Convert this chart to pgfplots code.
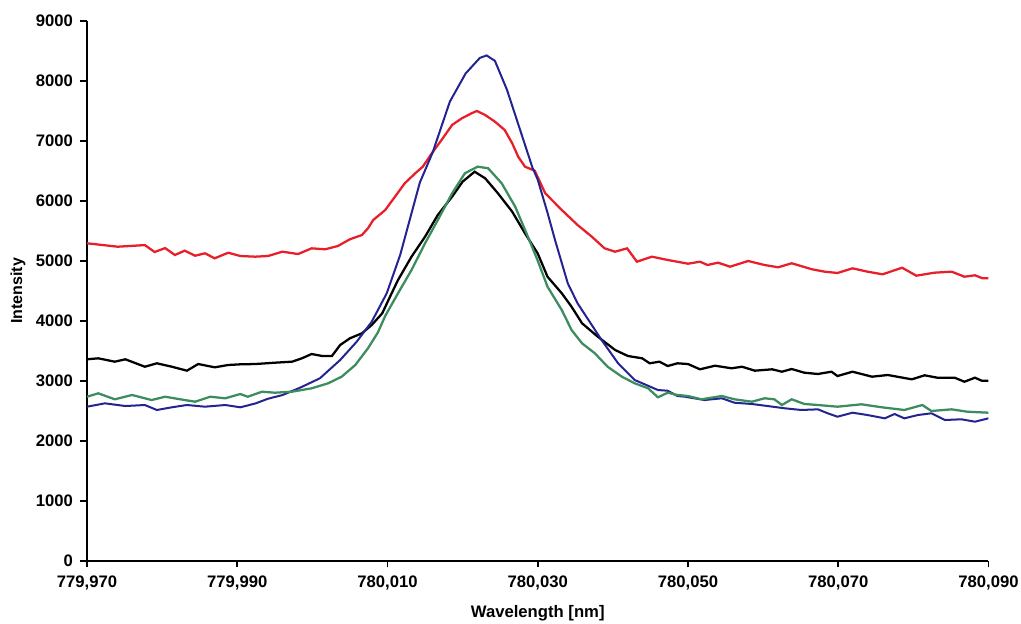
\documentclass[border=0pt]{standalone}
\usepackage{fontspec}
\setmainfont{Liberation Sans}
\usepackage{pgfplots}
\usepackage{pgfplotstable}
\pgfplotsset{compat=1.18}

\definecolor{specred}{RGB}{232,30,40}
\definecolor{specblue}{RGB}{35,35,145}
\definecolor{specgreen}{RGB}{60,140,95}

% wavelength [nm]  intensity
\pgfplotstableread{
wl int
779.9700 5290
779.9741 5233
779.9777 5260
779.9790 5145
779.9804 5210
779.9817 5095
779.9830 5167
779.9844 5083
779.9857 5123
779.9870 5040
779.9888 5133
779.9904 5078
779.9924 5067
779.9941 5078
779.9960 5150
779.9981 5111
779.9999 5206
780.0017 5190
780.0034 5245
780.0050 5357
780.0066 5428
780.0074 5540
780.0081 5678
780.0097 5845
780.0110 6067
780.0123 6290
780.0137 6457
780.0147 6567
780.0159 6790
780.0172 7012
780.0186 7262
780.0199 7373
780.0212 7457
780.0219 7495
780.0230 7428
780.0243 7317
780.0256 7178
780.0266 6957
780.0274 6733
780.0283 6567
780.0296 6500
780.0310 6123
780.0332 5845
780.0353 5595
780.0372 5400
780.0389 5206
780.0403 5150
780.0419 5206
780.0432 4983
780.0452 5067
780.0473 5012
780.0500 4950
780.0516 4983
780.0526 4928
780.0540 4967
780.0556 4900
780.0580 4995
780.0602 4928
780.0620 4890
780.0638 4957
780.0665 4857
780.0682 4817
780.0699 4795
780.0719 4873
780.0739 4817
780.0759 4773
780.0785 4883
780.0804 4750
780.0828 4800
780.0851 4817
780.0868 4733
780.0882 4757
780.0892 4707
780.0900 4707
}\redspec

\pgfplotstableread{
wl int
779.9700 3357
779.9715 3373
779.9737 3317
779.9751 3357
779.9777 3233
779.9793 3290
779.9813 3233
779.9833 3167
779.9848 3278
779.9870 3223
779.9888 3262
779.9904 3273
779.9924 3278
779.9950 3300
779.9973 3317
779.9986 3373
779.9999 3445
780.0013 3412
780.0026 3412
780.0037 3595
780.0050 3707
780.0066 3790
780.0079 3928
780.0093 4123
780.0103 4390
780.0114 4678
780.0132 5067
780.0150 5400
780.0167 5762
780.0186 6067
780.0200 6317
780.0216 6483
780.0230 6373
780.0247 6123
780.0266 5817
780.0283 5457
780.0300 5120
780.0313 4733
780.0332 4457
780.0345 4233
780.0359 3957
780.0380 3733
780.0403 3512
780.0420 3412
780.0439 3373
780.0449 3290
780.0462 3317
780.0473 3245
780.0486 3290
780.0500 3278
780.0516 3190
780.0536 3250
780.0558 3207
780.0572 3233
780.0589 3167
780.0612 3190
780.0625 3150
780.0638 3195
780.0655 3133
780.0673 3112
780.0691 3150
780.0699 3078
780.0719 3150
780.0745 3067
780.0766 3095
780.0798 3023
780.0815 3090
780.0832 3050
780.0855 3050
780.0868 2983
780.0882 3050
780.0891 3000
780.0900 3000
}\blackspec

\pgfplotstableread{
wl int
779.9700 2733
779.9715 2790
779.9737 2690
779.9760 2762
779.9786 2678
779.9804 2733
779.9830 2678
779.9844 2650
779.9864 2733
779.9884 2707
779.9904 2778
779.9914 2733
779.9933 2817
779.9950 2800
779.9973 2817
779.9999 2873
780.0021 2957
780.0039 3067
780.0057 3260
780.0074 3540
780.0087 3800
780.0097 4080
780.0114 4457
780.0132 4845
780.0150 5290
780.0167 5678
780.0186 6123
780.0203 6457
780.0220 6567
780.0234 6540
780.0252 6290
780.0270 5900
780.0285 5457
780.0300 5000
780.0313 4567
780.0332 4178
780.0345 3845
780.0359 3623
780.0376 3457
780.0393 3233
780.0412 3067
780.0429 2957
780.0447 2873
780.0460 2723
780.0473 2800
780.0486 2762
780.0500 2745
780.0518 2690
780.0545 2745
780.0562 2690
780.0585 2650
780.0602 2707
780.0615 2690
780.0625 2595
780.0638 2690
780.0655 2612
780.0673 2595
780.0699 2567
780.0731 2607
780.0758 2557
780.0788 2512
780.0812 2595
780.0824 2495
780.0851 2523
780.0872 2483
780.0900 2467
}\greenspec

\pgfplotstableread{
wl int
779.9700 2567
779.9724 2623
779.9751 2578
779.9777 2595
779.9793 2512
779.9813 2557
779.9833 2595
779.9857 2567
779.9884 2595
779.9904 2557
779.9924 2620
779.9941 2700
779.9960 2760
779.9983 2880
780.0010 3040
780.0037 3345
780.0059 3650
780.0079 3983
780.0099 4457
780.0117 5100
780.0143 6300
780.0160 6800
780.0183 7650
780.0204 8120
780.0223 8380
780.0232 8420
780.0243 8330
780.0259 7850
780.0276 7200
780.0293 6550
780.0300 6350
780.0313 5800
780.0323 5345
780.0340 4623
780.0353 4290
780.0385 3678
780.0407 3290
780.0429 3012
780.0460 2845
780.0473 2833
780.0486 2745
780.0496 2733
780.0522 2678
780.0545 2707
780.0562 2633
780.0585 2612
780.0606 2578
780.0629 2540
780.0651 2512
780.0673 2523
780.0686 2457
780.0699 2400
780.0719 2467
780.0739 2428
780.0762 2373
780.0775 2445
780.0788 2373
780.0806 2428
780.0824 2457
780.0842 2345
780.0864 2357
780.0882 2317
780.0900 2373
}\bluespec

\begin{document}
\begin{tikzpicture}
  \begin{axis}[
      name=ax, at={(0,0)}, anchor=south west,
      scale only axis, width=676pt, height=405pt,
      % shift wavelengths to pm above 779.970 nm with full precision
      x coord trafo/.code={\edef\pgfmathresult{\fpeval{(#1-779.97)*1000}}},
      xmin=779.97, xmax=780.09, ymin=0, ymax=9000,
      enlargelimits=false,
      axis lines=left,
      axis line style={-, line width=1.3pt, black},
      xtick={779.97,779.99,780.01,780.03,780.05,780.07,780.09},
      xticklabels={{779,970},{779,990},{780,010},{780,030},{780,050},{780,070},{780,090}},
      ytick={0,1000,...,9000},
      scaled y ticks=false,
      yticklabel style={/pgf/number format/1000 sep={},
                        /pgf/number format/assume math mode=true, xshift=-2pt},
      xticklabel style={yshift=-3pt},
      tick align=outside,
      major tick length=5pt,
      tick style={line width=1.3pt, black},
      ticklabel style={font=\fontsize{12.5}{15}\selectfont\bfseries},
      xlabel={Wavelength [nm]},
      ylabel={Intensity},
      every axis x label/.style={at={(axis description cs:0.5,-0.0968)}, anchor=center,
                                 font=\fontsize{12.5}{15}\selectfont\bfseries},
      every axis y label/.style={at={(axis description cs:-0.0766,0.5)}, rotate=90, anchor=center,
                                 font=\fontsize{12}{15}\selectfont\bfseries},
  ]
    \addplot[specred, line width=1.7pt] table[x=wl, y=int] {\redspec};
    \addplot[black, line width=1.7pt] table[x=wl, y=int] {\blackspec};
    \addplot[specblue, line width=1.5pt] table[x=wl, y=int] {\bluespec};
    \addplot[specgreen, line width=1.7pt] table[x=wl, y=int] {\greenspec};
  \end{axis}
  \pgfresetboundingbox
  \path ([shift={(-65.25pt,-46.7pt)}]ax.south west)
        rectangle ([shift={(24.4pt,15.5pt)}]ax.north east);
\end{tikzpicture}
\end{document}
